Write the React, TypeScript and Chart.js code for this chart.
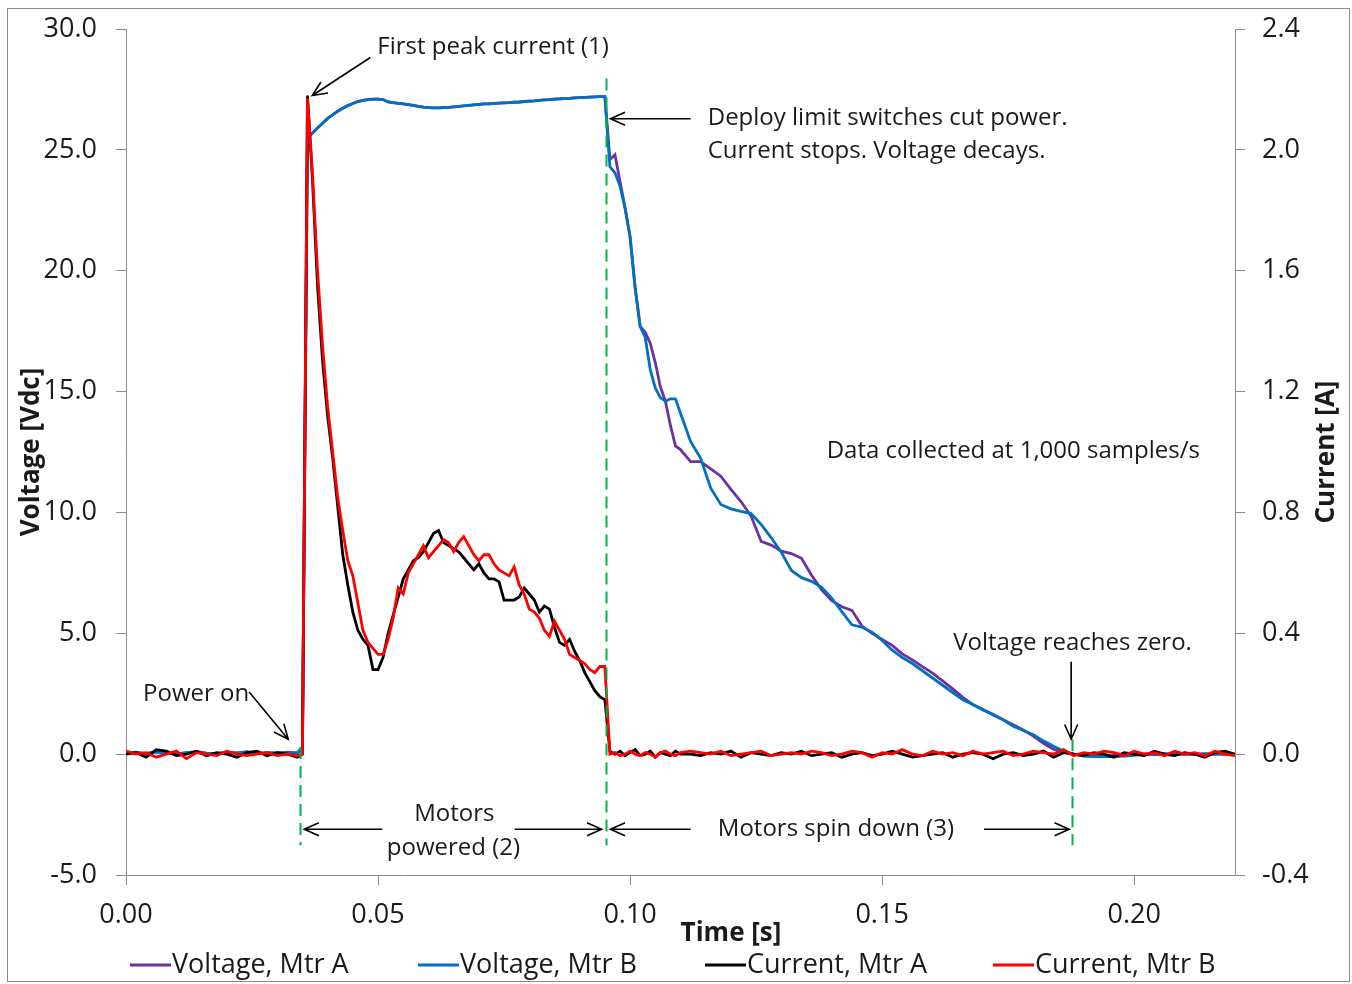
import React, { useEffect, useRef } from "react";
import { Chart, registerables } from "chart.js";

Chart.register(...registerables);

// ---------------- DATA ----------------
// Sample times in milliseconds (1 ms resolution around the motion, 2 ms elsewhere)
const TIME_MS = [
  0, 2, 4, 6, 8, 10, 12, 14, 16, 18, 20, 22, 24, 26, 28, 30, 32, 34,
  35, 36, 37, 38, 39, 40, 41, 42, 43, 44, 45, 46, 47, 48, 49, 50, 51, 52, 53, 54,
  55, 56, 57, 58, 59, 60, 61, 62, 63, 64, 65, 66, 67, 68, 69, 70, 71, 72, 73, 74,
  75, 76, 77, 78, 79, 80, 81, 82, 83, 84, 85, 86, 87, 88, 89, 90, 91, 92, 93, 94,
  95, 96, 97, 98, 99, 100, 101, 102, 103, 104, 105, 106, 107, 108, 109, 110,
  112, 114, 116, 118, 120, 122, 124, 126, 128, 130, 132, 134, 136, 138, 140,
  142, 144, 146, 148, 150, 152, 154, 156, 158, 160, 162, 164, 166, 168, 170,
  172, 174, 176, 178, 180, 182, 184, 186, 188, 190, 192, 194, 196, 198, 200,
  202, 204, 206, 208, 210, 212, 214, 216, 218, 220,
];

// Voltage, Mtr A [Vdc]
const VOLT_A = [
  0.05, 0.08, 0.02, 0.1, 0.05, 0.0, 0.06, 0.1, 0.04, 0.02, 0.08, 0.05, 0.1, 0.03, 0.06, 0.04, 0.08, 0.05,
  0.3, 25.5, 25.7, 25.9, 26.1, 26.3, 26.45, 26.6, 26.72, 26.83, 26.92, 27.0, 27.05, 27.08, 27.1, 27.1, 27.08, 26.98, 26.95, 26.92,
  26.9, 26.87, 26.84, 26.8, 26.77, 26.75, 26.74, 26.74, 26.75, 26.76, 26.78, 26.8, 26.82, 26.84, 26.86, 26.88, 26.9, 26.9, 26.92, 26.93,
  26.94, 26.95, 26.97, 26.98, 27.0, 27.02, 27.03, 27.05, 27.07, 27.08, 27.1, 27.11, 27.12, 27.13, 27.15, 27.16, 27.17, 27.18, 27.19, 27.2,
  27.2, 24.6, 24.8, 23.7, 22.6, 21.4, 19.3, 17.7, 17.45, 17.0, 16.2, 15.2, 14.6, 13.6, 12.75, 12.6,
  12.1, 12.1, 11.8, 11.5, 10.95, 10.45, 9.85, 8.8, 8.65, 8.4, 8.3, 8.1, 7.4, 6.8, 6.35,
  6.1, 5.95, 5.3, 5.0, 4.75, 4.5, 4.15, 3.9, 3.62, 3.35, 3.03, 2.7, 2.35, 2.05, 1.83,
  1.65, 1.42, 1.22, 1.0, 0.75, 0.45, 0.2, 0.08, 0.0, -0.05, -0.05, -0.06, -0.05, -0.04, -0.02,
  0.0, -0.02, 0.0, 0.01, 0.0, -0.01, 0.0, 0.01, 0.0, 0.0,
];

// Voltage, Mtr B [Vdc]
const VOLT_B = [
  0.05, 0.06, 0.03, 0.08, 0.04, 0.02, 0.05, 0.08, 0.03, 0.03, 0.06, 0.04, 0.08, 0.02, 0.05, 0.05, 0.06, 0.04,
  0.3, 25.5, 25.7, 25.9, 26.1, 26.3, 26.45, 26.6, 26.72, 26.83, 26.92, 27.0, 27.05, 27.08, 27.1, 27.1, 27.08, 26.98, 26.95, 26.92,
  26.9, 26.87, 26.84, 26.8, 26.77, 26.75, 26.74, 26.74, 26.75, 26.76, 26.78, 26.8, 26.82, 26.84, 26.86, 26.88, 26.9, 26.9, 26.92, 26.93,
  26.94, 26.95, 26.97, 26.98, 27.0, 27.02, 27.03, 27.05, 27.07, 27.08, 27.1, 27.11, 27.12, 27.13, 27.15, 27.16, 27.17, 27.18, 27.19, 27.2,
  27.2, 24.3, 24.05, 23.5, 22.6, 21.4, 19.3, 17.7, 17.25, 15.9, 15.15, 14.75, 14.6, 14.7, 14.7, 14.1,
  12.94, 12.24, 11.0, 10.33, 10.15, 10.04, 9.95, 9.5, 8.95, 8.35, 7.6, 7.3, 7.15, 6.9, 6.45,
  5.9, 5.35, 5.25, 5.05, 4.7, 4.3, 4.0, 3.75, 3.45, 3.15, 2.85, 2.55, 2.25, 2.05, 1.85,
  1.62, 1.42, 1.15, 0.98, 0.8, 0.55, 0.33, 0.13, 0.0, -0.08, -0.1, -0.1, -0.1, -0.08, -0.05,
  0.0, 0.0, 0.02, 0.0, 0.01, 0.0, 0.02, 0.0, 0.01, 0.0,
];

// Current, Mtr A [A]
const CURR_A = [
  0.0, 0.005, -0.01, 0.015, 0.01, -0.005, 0.0, 0.01, -0.005, 0.005, 0.0, -0.01, 0.005, 0.01, -0.005, 0.005, 0.0, -0.01,
  0.0, 2.18, 1.9, 1.55, 1.3, 1.12, 0.98, 0.82, 0.66, 0.56, 0.47, 0.41, 0.38, 0.36, 0.28, 0.28, 0.32, 0.4, 0.46, 0.52,
  0.58, 0.61, 0.64, 0.65, 0.67, 0.7, 0.73, 0.74, 0.7, 0.69, 0.68, 0.67, 0.65, 0.63, 0.61, 0.63, 0.6, 0.58, 0.58, 0.57,
  0.51, 0.51, 0.51, 0.52, 0.55, 0.53, 0.51, 0.47, 0.49, 0.48, 0.42, 0.37, 0.36, 0.38, 0.34, 0.31, 0.27, 0.24, 0.21, 0.19,
  0.18, 0.01, 0.0, 0.01, -0.005, 0.005, 0.015, -0.005, 0.0, 0.01, -0.01, 0.005, 0.0, -0.005, 0.01, 0.0,
  0.0, -0.005, 0.005, 0.0, 0.01, -0.01, 0.005, 0.0, -0.005, 0.005, 0.0, 0.01, -0.005, 0.0, 0.005,
  -0.01, 0.0, 0.005, -0.005, 0.0, 0.01, 0.0, -0.01, -0.005, 0.0, 0.005, -0.01, 0.0, 0.005, 0.0,
  -0.015, 0.0, 0.005, -0.005, 0.0, 0.01, -0.01, 0.005, 0.0, -0.005, 0.005, 0.0, -0.01, 0.005, 0.0,
  -0.005, 0.01, 0.0, -0.005, 0.005, 0.0, -0.01, 0.005, 0.01, 0.0,
];

// Current, Mtr B [A]
const CURR_B = [
  0.01, 0.0, 0.005, -0.01, 0.0, 0.01, -0.015, 0.005, 0.0, -0.005, 0.01, 0.0, -0.005, 0.0, 0.005, -0.005, 0.0, -0.005,
  0.0, 2.17, 1.92, 1.6, 1.35, 1.15, 1.0, 0.85, 0.74, 0.64, 0.59, 0.5, 0.41, 0.37, 0.35, 0.33, 0.33, 0.38, 0.45, 0.55,
  0.53, 0.6, 0.63, 0.66, 0.69, 0.65, 0.67, 0.69, 0.71, 0.7, 0.67, 0.7, 0.72, 0.69, 0.66, 0.64, 0.66, 0.66, 0.63, 0.61,
  0.6, 0.59, 0.62, 0.56, 0.53, 0.48, 0.47, 0.45, 0.41, 0.39, 0.44, 0.41, 0.38, 0.33, 0.32, 0.31, 0.3, 0.28, 0.27, 0.29,
  0.29, 0.0, 0.005, -0.005, 0.0, 0.01, 0.0, -0.005, 0.005, 0.0, -0.01, 0.005, 0.01, 0.0, -0.005, 0.005,
  0.01, 0.005, 0.0, 0.01, -0.005, 0.0, 0.005, 0.01, -0.005, 0.0, 0.005, 0.0, 0.01, 0.005, -0.005,
  0.0, 0.01, 0.005, -0.01, 0.005, 0.0, 0.015, 0.0, -0.005, 0.01, 0.0, 0.005, -0.005, 0.01, 0.0,
  0.005, 0.01, -0.005, 0.0, 0.01, 0.005, 0.0, 0.015, -0.005, 0.005, 0.0, 0.01, 0.005, -0.005, 0.01,
  0.0, 0.005, -0.005, 0.01, 0.0, 0.005, -0.005, 0.01, 0.0, -0.005,
];

const SERIES_NAMES = ["Voltage, Mtr A", "Voltage, Mtr B", "Current, Mtr A", "Current, Mtr B"];
const SERIES_COLORS = ["#7030A0", "#0070C0", "#000000", "#FF0000"];

const X_TITLE = "Time [s]";
const Y_TITLE = "Voltage [Vdc]";
const Y1_TITLE = "Current [A]";

// Annotations in data units (x: ms, y: volts on the left axis)
const GUIDES = [
  { t: 34.56, top: 0.3, bottom: -3.77 },
  { t: 95.14, top: 27.95, bottom: -3.77 },
  { t: 187.7, top: 0.62, bottom: -3.77 },
];
const NOTES = [
  { text: "First peak current (1)", t: 49.86, v: 29.24, align: "left" },
  { text: "Deploy limit switches cut power.", t: 115.4, v: 26.33, align: "left" },
  { text: "Current stops. Voltage decays.", t: 115.4, v: 24.96, align: "left" },
  { text: "Data collected at 1,000 samples/s", t: 139.0, v: 12.52, align: "left" },
  { text: "Voltage reaches zero.", t: 164.1, v: 4.6, align: "left" },
  { text: "Power on", t: 3.38, v: 2.49, align: "left" },
  { text: "Motors", t: 65.15, v: -2.49, align: "center" },
  { text: "powered (2)", t: 64.95, v: -3.9, align: "center" },
  { text: "Motors spin down (3)", t: 117.4, v: -3.11, align: "left" },
];
const ARROWS = [
  { t1: 48.47, v1: 28.82, t2: 36.95, v2: 27.25 },
  { t1: 112.0, v1: 26.29, t2: 96.1, v2: 26.29 },
  { t1: 187.5, v1: 3.82, t2: 187.5, v2: 0.62 },
  { t1: 24.43, v1: 2.57, t2: 32.18, v2: 0.62 },
  { t1: 50.85, v1: -3.11, t2: 35.36, v2: -3.11 },
  { t1: 77.07, v1: -3.11, t2: 94.35, v2: -3.11 },
  { t1: 112.0, v1: -3.11, t2: 96.1, v2: -3.11 },
  { t1: 170.2, v1: -3.11, t2: 187.1, v2: -3.11 },
];

// ---------------- LAYOUT / STYLE ----------------
const W = 1341;
const H = 972;
const FONT = "'Open Sans', 'DejaVu Sans', sans-serif";
const AXIS_COLOR = "#8C8C8C";
const TEXT_COLOR = "#1A1A1A";
const LEGEND_ITEMS_X = [122, 410, 697, 985];
const LEGEND_Y = 956;
const TITLE_MID_Y = 443;

const fmt = (v: number, d: number) => (Math.abs(v) < 1e-9 ? 0 : v).toFixed(d);

const overlayPlugin = {
  id: "overlay",
  afterDatasetsDraw(chart: any) {
    const ctx = chart.ctx;
    const xs = chart.scales.x;
    const ys = chart.scales.y;
    const px = (t: number) => xs.getPixelForValue(t);
    const py = (v: number) => ys.getPixelForValue(v);
    ctx.save();
    // green dashed guide lines
    ctx.strokeStyle = "#00B050";
    ctx.lineWidth = 2;
    ctx.setLineDash([12, 7]);
    for (const g of GUIDES) {
      ctx.beginPath();
      ctx.moveTo(Math.round(px(g.t)) + 0.5, py(g.top));
      ctx.lineTo(Math.round(px(g.t)) + 0.5, py(g.bottom));
      ctx.stroke();
    }
    ctx.setLineDash([]);
    // arrows
    ctx.strokeStyle = "#000000";
    ctx.lineWidth = 1.6;
    for (const a of ARROWS) {
      const x1 = px(a.t1), y1 = py(a.v1), x2 = px(a.t2), y2 = py(a.v2);
      const ang = Math.atan2(y2 - y1, x2 - x1);
      const L = 16, spread = 0.42;
      ctx.beginPath();
      ctx.moveTo(x1, y1);
      ctx.lineTo(x2, y2);
      ctx.moveTo(x2 - L * Math.cos(ang - spread), y2 - L * Math.sin(ang - spread));
      ctx.lineTo(x2, y2);
      ctx.lineTo(x2 - L * Math.cos(ang + spread), y2 - L * Math.sin(ang + spread));
      ctx.stroke();
    }
    // notes
    ctx.fillStyle = TEXT_COLOR;
    ctx.font = `24px ${FONT}`;
    ctx.textBaseline = "middle";
    for (const n of NOTES) {
      ctx.textAlign = n.align as CanvasTextAlign;
      ctx.fillText(n.text, px(n.t), py(n.v));
    }
    ctx.restore();
  },
  afterDraw(chart: any) {
    const ctx = chart.ctx;
    ctx.save();
    ctx.fillStyle = TEXT_COLOR;
    ctx.font = `bold 26px ${FONT}`;
    ctx.textAlign = "center";
    ctx.textBaseline = "middle";
    // x title
    ctx.fillText(X_TITLE, 723, 925);
    // y titles
    ctx.save();
    ctx.translate(24, TITLE_MID_Y);
    ctx.rotate(-Math.PI / 2);
    ctx.fillText(Y_TITLE, 0, 0);
    ctx.restore();
    ctx.save();
    ctx.translate(1319, TITLE_MID_Y);
    ctx.rotate(-Math.PI / 2);
    ctx.fillText(Y1_TITLE, 0, 0);
    ctx.restore();
    // legend
    ctx.font = `27px ${FONT}`;
    ctx.textAlign = "left";
    SERIES_NAMES.forEach((name, i) => {
      const x0 = LEGEND_ITEMS_X[i];
      ctx.strokeStyle = SERIES_COLORS[i];
      ctx.lineWidth = 3;
      ctx.beginPath();
      ctx.moveTo(x0, LEGEND_Y);
      ctx.lineTo(x0 + 41, LEGEND_Y);
      ctx.stroke();
      ctx.fillStyle = TEXT_COLOR;
      ctx.fillText(name, x0 + 42, LEGEND_Y);
    });
    ctx.restore();
  },
};

const fitVertical = (w: number) => (s: any) => {
  s.width = w;
  s.paddingTop = 0;
  s.paddingBottom = 0;
};

export default function App() {
  const canvasRef = useRef<HTMLCanvasElement | null>(null);

  useEffect(() => {
    if (!canvasRef.current) return;
    const mk = (vals: number[]) => TIME_MS.map((t, i) => ({ x: t, y: vals[i] }));
    const seriesVals = [VOLT_A, VOLT_B, CURR_A, CURR_B];
    const axisIds = ["y", "y", "y1", "y1"];
    const orders = [4, 3, 2, 1];
    const chart = new Chart(canvasRef.current, {
      type: "line",
      data: {
        datasets: SERIES_NAMES.map((name, i) => ({
          label: name,
          data: mk(seriesVals[i]),
          borderColor: SERIES_COLORS[i],
          backgroundColor: SERIES_COLORS[i],
          borderWidth: 2.8,
          pointRadius: 0,
          tension: 0,
          yAxisID: axisIds[i],
          order: orders[i],
        })),
      },
      options: {
        responsive: false,
        animation: false,
        layout: { padding: { top: 20, left: 0, right: 0, bottom: 36 } },
        plugins: { legend: { display: false }, tooltip: { enabled: false } },
        scales: {
          x: {
            type: "linear",
            min: 0,
            max: 220,
            afterFit: (s: any) => {
              s.height = 70;
              s.paddingLeft = 0;
              s.paddingRight = 0;
            },
            ticks: {
              stepSize: 50,
              includeBounds: false,
              padding: 14,
              color: TEXT_COLOR,
              font: { family: FONT, size: 27 },
              callback: (v: any) => fmt(Number(v) / 1000, 2),
            },
            grid: { display: true, drawOnChartArea: false, drawTicks: true, tickLength: 10, color: AXIS_COLOR },
            border: { display: true, color: AXIS_COLOR, width: 1 },
          },
          y: {
            type: "linear",
            position: "left",
            min: -5,
            max: 30,
            afterFit: fitVertical(118),
            ticks: {
              stepSize: 5,
              padding: 19,
              color: TEXT_COLOR,
              font: { family: FONT, size: 27 },
              callback: (v: any) => fmt(Number(v), 1),
            },
            grid: { display: true, drawOnChartArea: false, drawTicks: true, tickLength: 10, color: AXIS_COLOR },
            border: { display: true, color: AXIS_COLOR, width: 1 },
          },
          y1: {
            type: "linear",
            position: "right",
            min: -0.4,
            max: 2.4,
            afterFit: fitVertical(114),
            ticks: {
              stepSize: 0.4,
              padding: 17,
              color: TEXT_COLOR,
              font: { family: FONT, size: 27 },
              callback: (v: any) => fmt(Number(v), 1),
            },
            grid: { display: true, drawOnChartArea: false, drawTicks: true, tickLength: 10, color: AXIS_COLOR },
            border: { display: true, color: AXIS_COLOR, width: 1 },
          },
        },
      },
      plugins: [overlayPlugin],
    } as any);
    return () => chart.destroy();
  }, []);

  return (
    <div
      style={{
        position: "absolute",
        left: 7,
        top: 8,
        width: W,
        height: H,
        border: "1px solid #8C8C8C",
        background: "#fff",
      }}
    >
      <canvas ref={canvasRef} width={W} height={H} style={{ display: "block" }} />
    </div>
  );
}
